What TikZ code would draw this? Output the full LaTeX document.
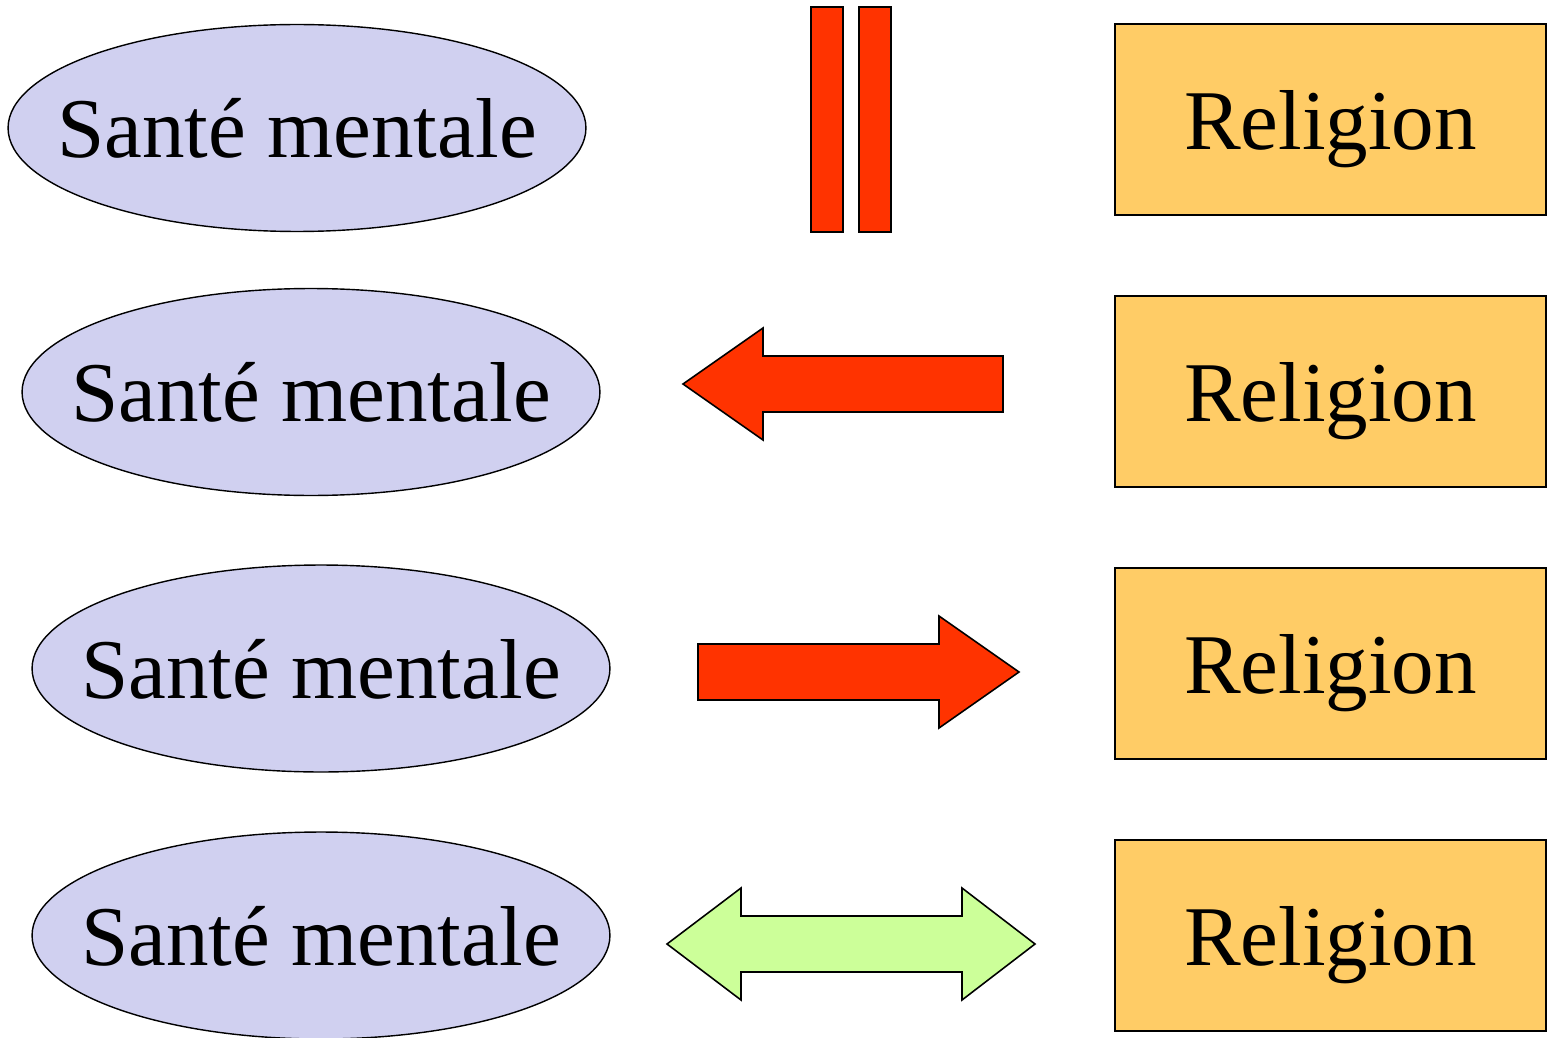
\documentclass[tikz,border=0pt]{standalone}
\usepackage{fontspec}
\setmainfont{Liberation Serif}
\usepackage{xcolor}
\usetikzlibrary{shapes.geometric}

\definecolor{santebg}{HTML}{D0D0F0}
\definecolor{religbg}{HTML}{FFCC66}
\definecolor{redarrow}{HTML}{FF3300}
\definecolor{greenarrow}{HTML}{CCFF99}

\begin{document}
\begin{tikzpicture}[x=0.02cm,y=-0.02cm,
  sante/.style={draw,ellipse,fill=santebg,line width=0.8pt,minimum width=11.56cm,minimum height=4.14cm,inner sep=0pt},
  relig/.style={draw,fill=religbg,line width=1.1pt,minimum width=8.62cm,minimum height=3.82cm,inner sep=0pt,text depth=0pt,font=\fontsize{48.4}{58}\selectfont},
  santetext/.style={inner sep=0pt,text depth=0pt,font=\fontsize{48.4}{58}\selectfont},
  blockarrow/.style={draw=black,line width=0.9pt,line join=miter}]

  \useasboundingbox (0,0) rectangle (1547,1037);

  % %row 1: no link
  \node[sante] (SaMe1) at (297,128) {};
  \node[santetext] (SaMeT1) at (SaMe1) {Santé mentale};
  \node[relig] (Re1) at (1330.5,119.5) {Religion};
  \draw[blockarrow,fill=redarrow] (811,7) rectangle (843,232);
  \draw[blockarrow,fill=redarrow] (859,7) rectangle (891,232);

  % %row 2: religion to health
  \node[sante] (SaMe2) at (311,392) {};
  \node[santetext] (SaMeT2) at (SaMe2) {Santé mentale};
  \node[relig] (Re2) at (1330.5,391.5) {Religion};
  \draw[blockarrow,fill=redarrow] (683,384) -- (763,328) -- (763,356) -- (1003,356)
    -- (1003,412) -- (763,412) -- (763,440) -- cycle;

  % %row 3: health to religion
  \node[sante] (SaMe3) at (321,668.5) {};
  \node[santetext] (SaMeT3) at (SaMe3) {Santé mentale};
  \node[relig] (Re3) at (1330.5,663.5) {Religion};
  \draw[blockarrow,fill=redarrow] (1019,672) -- (939,616) -- (939,644) -- (698,644)
    -- (698,700) -- (939,700) -- (939,728) -- cycle;

  % %row 4: both ways
  \node[sante] (SaMe4) at (321,935.5) {};
  \node[santetext] (SaMeT4) at (SaMe4) {Santé mentale};
  \node[relig] (Re4) at (1330.5,935.5) {Religion};
  \draw[blockarrow,fill=greenarrow] (667,944) -- (741,888) -- (741,916) -- (962,916)
    -- (962,888) -- (1035,944) -- (962,1000) -- (962,972) -- (741,972) -- (741,1000) -- cycle;

\end{tikzpicture}
\end{document}
